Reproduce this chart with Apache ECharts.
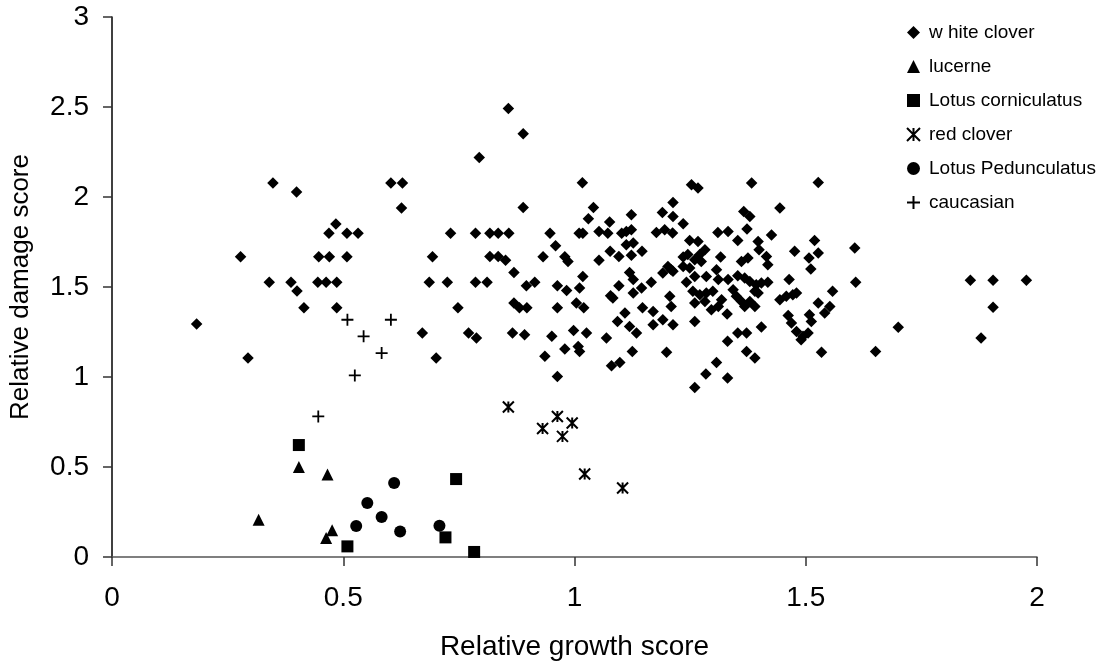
<!DOCTYPE html>
<html>
<head>
<meta charset="utf-8">
<script src="https://cdn.jsdelivr.net/npm/echarts@6/dist/echarts.min.js"></script>
<style>
html,body{margin:0;padding:0;background:#fff;}
#chart{width:1115px;height:664px;}
</style>
</head>
<body>
<div id="chart"></div>
<script>
const xTicks = [0, 0.5, 1, 1.5, 2];
const yTicks = [0, 0.5, 1, 1.5, 2, 2.5, 3];
const seriesNames = ['w hite clover', 'lucerne', 'Lotus corniculatus', 'red clover', 'Lotus Pedunculatus', 'caucasian'];

const whiteClover = [
[0.348,2.078],[0.399,2.028],[0.603,2.078],[0.628,2.078],[0.626,1.939],[0.484,1.85],[0.469,1.798],[0.508,1.798],[0.532,1.798],[0.278,1.668],[0.447,1.668],[0.470,1.668],[0.508,1.668],[0.340,1.526],[0.387,1.526],[0.400,1.478],[0.445,1.526],[0.463,1.526],[0.486,1.526],[0.415,1.385],[0.486,1.385],[0.183,1.294],[0.294,1.105],
[0.857,2.492],[0.889,2.352],[0.794,2.22],[1.017,2.079],[0.889,1.941],[1.041,1.941],[1.030,1.879],[1.123,1.902],[1.076,1.861],[0.732,1.798],[0.786,1.798],[0.817,1.798],[0.835,1.798],[0.858,1.798],[0.947,1.798],[1.010,1.798],[1.018,1.798],[1.053,1.809],[1.072,1.798],[1.102,1.798],[1.112,1.809],[1.123,1.818],[0.959,1.729],[0.693,1.668],[0.817,1.67],[0.835,1.67],[0.851,1.648],[0.932,1.668],[0.979,1.668],[0.986,1.642],[1.053,1.648],[1.077,1.698],[1.096,1.67],[1.123,1.676],[1.146,1.698],[1.112,1.735],[1.127,1.744],[0.869,1.581],[0.686,1.526],[0.725,1.526],[0.786,1.526],[0.811,1.526],[0.896,1.507],[0.914,1.526],[0.963,1.507],[0.983,1.481],[1.011,1.494],[1.018,1.559],[1.119,1.581],[1.127,1.541],[1.096,1.507],[1.078,1.452],[1.083,1.439],[1.127,1.467],[1.145,1.494],[0.748,1.385],[0.869,1.411],[0.881,1.385],[0.897,1.385],[0.963,1.385],[1.004,1.411],[1.02,1.385],[1.147,1.385],[0.671,1.244],[0.771,1.244],[0.788,1.217],[0.866,1.244],[0.892,1.235],[0.951,1.226],[0.998,1.259],[1.026,1.244],[1.069,1.217],[1.093,1.309],[1.109,1.356],[1.119,1.281],[1.134,1.244],[0.701,1.105],[0.936,1.115],[0.979,1.156],[1.008,1.17],[1.011,1.142],[0.963,1.003],[1.080,1.063],[1.098,1.081],[1.125,1.142],
[1.253,2.068],[1.267,2.05],[1.383,2.078],[1.527,2.081],[1.213,1.97],[1.19,1.914],[1.213,1.892],[1.235,1.852],[1.366,1.92],[1.379,1.892],[1.444,1.939],[1.177,1.803],[1.195,1.818],[1.212,1.80],[1.31,1.803],[1.332,1.809],[1.373,1.822],[1.353,1.759],[1.426,1.789],[1.519,1.759],[1.606,1.717],[1.249,1.759],[1.267,1.753],[1.282,1.707],[1.397,1.753],[1.399,1.707],[1.415,1.67],[1.418,1.624],[1.476,1.698],[1.507,1.661],[1.527,1.689],[1.511,1.60],[1.316,1.667],[1.361,1.642],[1.375,1.661],[1.235,1.667],[1.245,1.68],[1.26,1.652],[1.271,1.68],[1.274,1.642],[1.235,1.614],[1.249,1.606],[1.191,1.578],[1.202,1.614],[1.209,1.596],[1.213,1.587],[1.166,1.526],[1.242,1.526],[1.26,1.559],[1.285,1.559],[1.307,1.596],[1.311,1.541],[1.332,1.541],[1.353,1.563],[1.368,1.55],[1.379,1.531],[1.393,1.513],[1.404,1.522],[1.418,1.526],[1.464,1.541],[1.558,1.476],[1.608,1.526],[1.256,1.476],[1.271,1.457],[1.285,1.467],[1.299,1.476],[1.26,1.411],[1.282,1.42],[1.296,1.374],[1.311,1.392],[1.318,1.429],[1.343,1.485],[1.35,1.448],[1.361,1.42],[1.368,1.392],[1.379,1.42],[1.39,1.392],[1.397,1.467],[1.39,1.476],[1.206,1.448],[1.209,1.392],[1.17,1.364],[1.17,1.29],[1.191,1.318],[1.213,1.29],[1.26,1.309],[1.33,1.35],[1.444,1.429],[1.458,1.448],[1.472,1.457],[1.48,1.467],[1.462,1.342],[1.469,1.30],[1.527,1.411],[1.552,1.392],[1.541,1.356],[1.508,1.346],[1.512,1.309],[1.48,1.253],[1.494,1.226],[1.505,1.244],[1.49,1.207],[1.353,1.244],[1.372,1.244],[1.404,1.278],[1.331,1.198],[1.372,1.142],[1.39,1.105],[1.534,1.137],[1.199,1.137],[1.307,1.081],[1.284,1.017],[1.26,0.942],[1.331,0.994],
[1.70,1.276],[1.651,1.142],[1.856,1.537],[1.905,1.537],[1.977,1.537],[1.905,1.387],[1.879,1.217]
];
const lucerne = [[0.404,0.50],[0.466,0.459],[0.317,0.207],[0.476,0.148],[0.463,0.106]];
const lotusCorniculatus = [[0.404,0.622],[0.744,0.433],[0.509,0.059],[0.721,0.109],[0.783,0.028]];
const redClover = [[0.857,0.833],[0.931,0.714],[0.963,0.781],[0.995,0.744],[0.974,0.670],[1.022,0.461],[1.104,0.383]];
const lotusPedunculatus = [[0.610,0.411],[0.552,0.30],[0.583,0.222],[0.528,0.172],[0.623,0.142],[0.708,0.174]];
const caucasian = [[0.509,1.318],[0.603,1.318],[0.544,1.226],[0.583,1.133],[0.525,1.009],[0.446,0.781]];

const FONT = '"Liberation Sans", Arial, sans-serif';
const chart = echarts.init(document.getElementById('chart'), null, {renderer: 'canvas'});

const starPath = 'path://M0,0L10,10M10,0L0,10M5,0L5,10';
const plusPath = 'path://M5,0L5,10M0,5L10,5';
const solid = {color: '#000', opacity: 1};

chart.setOption({
  animation: false,
  backgroundColor: '#ffffff',
  grid: {left: 112, right: 78, top: 17, bottom: 107, containLabel: false, outerBoundsMode: 'none'},
  legend: {
    orient: 'vertical',
    left: 901,
    top: 18,
    itemWidth: 13,
    itemHeight: 13,
    itemGap: 15,
    textStyle: {fontFamily: FONT, fontSize: 19, color: '#000', padding: [0, 0, 0, 4]},
    data: seriesNames
  },
  xAxis: {
    type: 'value',
    min: xTicks[0], max: xTicks[xTicks.length - 1], interval: 0.5,
    name: 'Relative growth score',
    nameLocation: 'middle',
    nameGap: 76,
    nameTextStyle: {fontFamily: FONT, fontSize: 28, color: '#000'},
    axisLine: {show: true, onZero: false, lineStyle: {color: '#555', width: 1.5}},
    axisTick: {show: true, inside: false, length: 9, lineStyle: {color: '#333', width: 1.5}},
    axisLabel: {fontFamily: FONT, fontSize: 28, color: '#000', margin: 27},
    splitLine: {show: false}
  },
  yAxis: {
    type: 'value',
    min: yTicks[0], max: yTicks[yTicks.length - 1], interval: 0.5,
    name: 'Relative damage score',
    nameLocation: 'middle',
    nameGap: 78,
    nameTextStyle: {fontFamily: FONT, fontSize: 26, color: '#000'},
    axisLine: {show: true, onZero: false, lineStyle: {color: '#000', width: 1.5}},
    axisTick: {show: true, inside: false, length: 9, lineStyle: {color: '#333', width: 1.5}},
    axisLabel: {fontFamily: FONT, fontSize: 28, color: '#000', margin: 23, padding: [8, 0, 0, 0]},
    splitLine: {show: false}
  },
  series: [
    {name: seriesNames[0], type: 'scatter', data: whiteClover, symbol: 'diamond', symbolSize: 11.5, itemStyle: solid},
    {name: seriesNames[1], type: 'scatter', data: lucerne, symbol: 'triangle', symbolSize: 12, itemStyle: solid},
    {name: seriesNames[2], type: 'scatter', data: lotusCorniculatus, symbol: 'rect', symbolSize: 12, itemStyle: solid},
    {name: seriesNames[3], type: 'scatter', data: redClover, symbol: starPath, symbolSize: 11, itemStyle: {color: 'rgba(0,0,0,0)', borderColor: '#000', borderWidth: 2, opacity: 1}},
    {name: seriesNames[4], type: 'scatter', data: lotusPedunculatus, symbol: 'circle', symbolSize: 12, itemStyle: solid},
    {name: seriesNames[5], type: 'scatter', data: caucasian, symbol: plusPath, symbolSize: 12, itemStyle: {color: 'rgba(0,0,0,0)', borderColor: '#000', borderWidth: 1.8, opacity: 1}}
  ]
});
</script>
</body>
</html>
